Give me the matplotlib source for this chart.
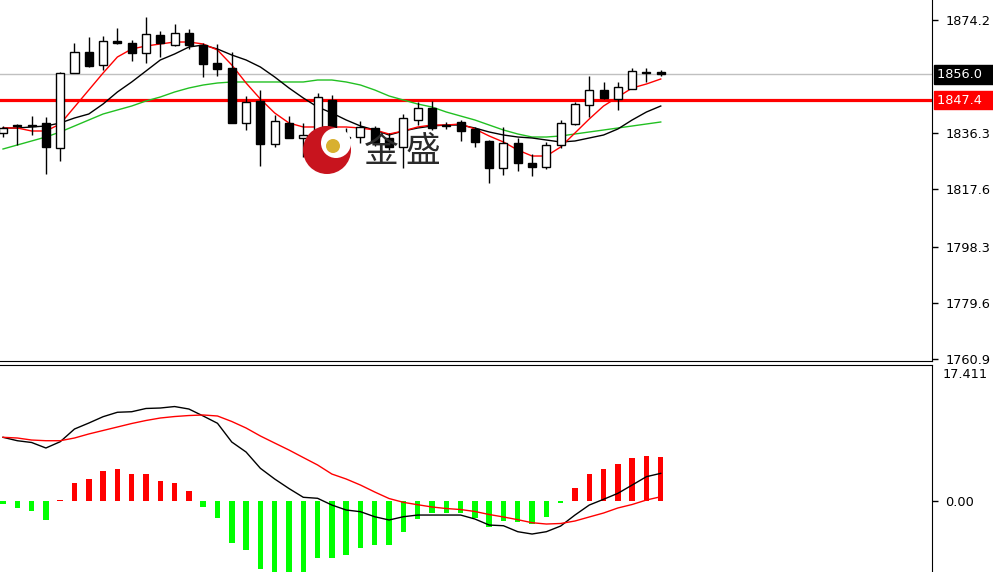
import matplotlib
matplotlib.use("Agg")
import matplotlib.pyplot as plt
import matplotlib.transforms as mtransforms
from matplotlib.patches import Circle
import numpy as np

# candle data (one per bar)
opens = [1836.43, 1839.10, 1839.10, 1839.77, 1831.42, 1856.48, 1863.50, 1859.16, 1867.18, 1866.51,
         1863.17, 1869.18, 1865.84, 1869.85, 1865.84, 1859.83, 1858.16, 1839.77, 1847.13, 1832.76,
         1839.77, 1834.76, 1834.09, 1847.46, 1835.10, 1835.10, 1838.10, 1834.76, 1831.75, 1840.78,
         1844.79, 1839.10, 1840.11, 1837.77, 1833.76, 1824.73, 1833.09, 1826.40, 1825.07, 1832.42,
         1839.44, 1845.79, 1850.80, 1847.79, 1851.14, 1856.82, 1856.90]
highs = [1838.77, 1839.44, 1842.11, 1841.78, 1856.82, 1866.51, 1868.51, 1868.85, 1871.52, 1867.51,
         1875.20, 1870.52, 1872.86, 1871.19, 1866.51, 1866.18, 1863.50, 1848.80, 1850.80, 1842.45,
         1842.11, 1839.77, 1849.80, 1849.13, 1838.10, 1840.44, 1838.77, 1836.43, 1842.78, 1846.79,
         1847.13, 1840.11, 1840.78, 1838.44, 1834.09, 1838.44, 1834.76, 1829.41, 1833.42, 1840.78,
         1846.79, 1855.48, 1853.48, 1853.48, 1858.16, 1858.16, 1857.49]
lows = [1835.10, 1832.42, 1835.76, 1822.73, 1827.07, 1856.48, 1858.49, 1857.49, 1866.18, 1860.49,
        1859.83, 1861.83, 1865.51, 1864.50, 1855.15, 1855.48, 1839.77, 1837.43, 1825.40, 1831.75,
        1834.76, 1828.41, 1832.42, 1834.09, 1830.75, 1833.09, 1832.09, 1830.75, 1824.73, 1839.10,
        1837.43, 1837.77, 1833.76, 1831.75, 1819.72, 1822.39, 1823.73, 1822.06, 1824.40, 1831.42,
        1839.10, 1841.78, 1847.79, 1844.12, 1851.14, 1853.48, 1855.48]
closes = [1838.10, 1838.77, 1838.77, 1831.75, 1856.48, 1863.50, 1858.82, 1867.18, 1866.51, 1863.17,
          1869.52, 1866.51, 1869.85, 1865.84, 1859.49, 1857.82, 1839.77, 1846.79, 1832.76, 1840.44,
          1834.76, 1835.76, 1848.46, 1835.76, 1834.76, 1838.44, 1833.42, 1831.75, 1841.44, 1844.79,
          1838.10, 1838.77, 1837.10, 1833.42, 1824.73, 1833.09, 1826.40, 1825.07, 1832.42, 1839.77,
          1846.12, 1850.80, 1848.13, 1851.81, 1857.15, 1856.48, 1856.00]

# moving averages as drawn on the chart
ma_red = [1838.10, 1838.10, 1837.10, 1837.10, 1839.44, 1845.12, 1850.80, 1856.48, 1861.83, 1864.50,
          1865.51, 1866.18, 1866.84, 1866.84, 1866.18, 1864.17, 1859.16, 1853.14, 1847.79, 1843.12,
          1839.77, 1838.44, 1838.44, 1838.44, 1838.44, 1838.10, 1837.43, 1836.10, 1837.10, 1838.44,
          1839.10, 1839.10, 1839.44, 1837.77, 1835.43, 1833.42, 1830.75, 1828.74, 1828.74, 1831.75,
          1836.43, 1841.11, 1845.45, 1848.46, 1851.47, 1852.81, 1854.48]
ma_black = [1838.10, 1838.10, 1838.44, 1838.77, 1839.77, 1841.44, 1842.78, 1846.12, 1850.13, 1853.48,
            1857.15, 1860.83, 1862.83, 1865.17, 1865.84, 1864.50, 1862.50, 1860.83, 1858.49, 1855.15,
            1851.47, 1848.13, 1845.12, 1843.12, 1840.78, 1838.77, 1837.43, 1835.76, 1837.10, 1838.10,
            1838.77, 1839.10, 1839.10, 1838.10, 1836.77, 1835.76, 1835.09, 1834.76, 1834.09, 1833.42,
            1833.76, 1834.76, 1835.76, 1837.77, 1840.78, 1843.45, 1845.45]
ma_green = [1831.08, 1832.42, 1833.76, 1835.09, 1836.77, 1838.77, 1840.78, 1842.78, 1844.12, 1845.45,
            1847.13, 1848.46, 1850.13, 1851.47, 1852.47, 1853.14, 1853.48, 1853.48, 1853.48, 1853.48,
            1853.48, 1853.48, 1854.14, 1854.14, 1853.48, 1852.47, 1850.80, 1848.80, 1847.46, 1846.12,
            1845.12, 1843.45, 1842.11, 1840.78, 1839.10, 1837.43, 1836.10, 1835.09, 1835.09, 1835.43,
            1836.10, 1836.77, 1837.43, 1838.10, 1838.77, 1839.44, 1840.11]

# MACD panel
macd_hist = [-0.39, -0.86, -1.29, -2.45, 0.15, 2.36, 2.80, 3.91, 4.13, 3.44,
             3.44, 2.62, 2.36, 1.29, -0.73, -2.15, -5.46, -6.32, -8.82, -9.40,
             -9.60, -9.40, -7.40, -7.40, -6.97, -6.02, -5.68, -5.68, -3.96, -2.37,
             -1.51, -1.51, -1.59, -2.24, -3.31, -2.58, -2.67, -3.01, -2.02, -0.25,
             1.72, 3.44, 4.09, 4.73, 5.59, 5.81, 5.64]
macd_main = [8.22, 7.78, 7.55, 6.84, 7.65, 9.29, 10.06, 10.88, 11.45, 11.52,
             11.94, 12.00, 12.19, 11.87, 10.97, 10.03, 7.61, 6.32, 4.22, 2.84,
             1.61, 0.48, 0.35, -0.52, -1.16, -1.38, -2.03, -2.45, -2.03, -1.81,
             -1.81, -1.81, -1.81, -2.32, -3.10, -3.19, -3.96, -4.26, -3.96, -3.23,
             -1.81, -0.52, 0.22, 0.99, 2.06, 3.14, 3.57]
macd_signal = [8.22, 8.13, 7.87, 7.78, 7.78, 8.13, 8.65, 9.10, 9.55, 10.00,
               10.39, 10.71, 10.90, 11.03, 11.10, 10.97, 10.26, 9.42, 8.39, 7.48,
               6.58, 5.61, 4.65, 3.48, 2.84, 2.06, 1.16, 0.32, -0.17, -0.48,
               -0.77, -0.97, -1.10, -1.35, -1.74, -2.06, -2.41, -2.80, -2.97, -2.90,
               -2.58, -2.06, -1.55, -0.90, -0.45, 0.13, 0.55]

price_ticks = [1874.2, 1836.3, 1817.6, 1798.3, 1779.6, 1760.9]
bid_price = 1856.0
level_price = 1847.4
macd_top_label = "17.411"

W, H = 993, 572
fig = plt.figure(figsize=(W / 100, H / 100), dpi=100)
fig.patch.set_facecolor("white")

x = np.arange(len(closes))
xlim = (-0.21, 64.97)

# ---- main price panel ----
ax = fig.add_axes([0, (H - 361) / H, 932 / W, 361 / H])
ax.set_xlim(*xlim)
ax.set_ylim(1760.23, 1880.88)

ax.axhline(bid_price, color="#c0c0c0", lw=1, zorder=1)
ax.axhline(level_price, color="#ff0000", lw=2.3, zorder=2)

ax.plot(x, ma_green, color="#22c022", lw=1, zorder=3)
ax.plot(x, ma_black, color="black", lw=1, zorder=3)
ax.plot(x, ma_red, color="#ff0000", lw=1, zorder=3)

for i in range(len(closes)):
    o, h, l, c = opens[i], highs[i], lows[i], closes[i]
    ax.vlines(x[i], l, h, color="black", lw=1, zorder=4)
    bull = c >= o
    body = max(abs(c - o), 0.3)
    ax.bar(x[i], body, bottom=min(o, c), width=0.56,
           color="white" if bull else "black", edgecolor="black", lw=1, zorder=5)

for s in ["left", "top"]:
    ax.spines[s].set_visible(False)
ax.spines["right"].set_color("black")
ax.spines["bottom"].set_color("black")
ax.set_xticks([])
ax.yaxis.tick_right()
ax.set_yticks(price_ticks)
ax.set_yticklabels([f"{t:.1f}" for t in price_ticks])
ax.tick_params(axis="y", length=4, width=1, pad=5.5, labelsize=9.3, colors="black")

# price labels in boxes on the right scale
trans = mtransforms.blended_transform_factory(ax.transAxes, ax.transData)
box_x = 1.0 + 5 / 932
ax.text(box_x, bid_price, f"{bid_price:.1f}" + "  ", transform=trans, ha="left", va="center",
        fontsize=9.3, color="white", zorder=10, clip_on=False,
        bbox=dict(boxstyle="square,pad=0.2", facecolor="black", edgecolor="black"))
ax.text(box_x, level_price, f"{level_price:.1f}" + "  ", transform=trans, ha="left", va="center",
        fontsize=9.3, color="white", zorder=10, clip_on=False,
        bbox=dict(boxstyle="square,pad=0.2", facecolor="#ff0000", edgecolor="#ff0000"))

# watermark logo + text
wm = fig.add_axes([0, 0, 1, 1], zorder=5)
wm.set_xlim(0, W)
wm.set_ylim(H, 0)
wm.axis("off")
wm.patch.set_alpha(0)
wm.add_patch(Circle((327, 150), 24, facecolor="#c8141e", edgecolor="none"))
wm.add_patch(Circle((336, 143), 15, facecolor="white", edgecolor="none"))
wm.add_patch(Circle((333, 146), 7, facecolor="#d8b030", edgecolor="none"))
wm.text(381, 152, "金", fontsize=25, color="#2a2a2a", ha="center", va="center",
        family=["Noto Sans CJK SC", "DejaVu Sans"])
wm.text(423, 152, "盛", fontsize=25, color="#2a2a2a", ha="center", va="center",
        family=["Noto Sans CJK SC", "DejaVu Sans"])

# ---- MACD panel ----
ax2 = fig.add_axes([0, 0, 932 / W, (H - 365) / H])
ax2.set_xlim(*xlim)
ax2.set_ylim(-9.16, 17.55)
hist_colors = ["#ff0000" if v > 0 else "#00ff00" for v in macd_hist]
ax2.bar(x, macd_hist, width=0.38, color=hist_colors, zorder=2)
ax2.plot(x, macd_main, color="black", lw=1, zorder=3)
ax2.plot(x, macd_signal, color="#ff0000", lw=1, zorder=3)

for s in ["left", "bottom"]:
    ax2.spines[s].set_visible(False)
ax2.set_xticks([])
ax2.yaxis.tick_right()
ax2.set_yticks([0])
ax2.set_yticklabels(["0.00"])
ax2.tick_params(axis="y", length=4, width=1, pad=5.5, labelsize=9.3, colors="black")
ax2.text(1.011, 0.985, macd_top_label, transform=ax2.transAxes, ha="left", va="top",
         fontsize=9.3, color="black", clip_on=False)

fig.savefig("out.png", dpi=100, facecolor="white")
